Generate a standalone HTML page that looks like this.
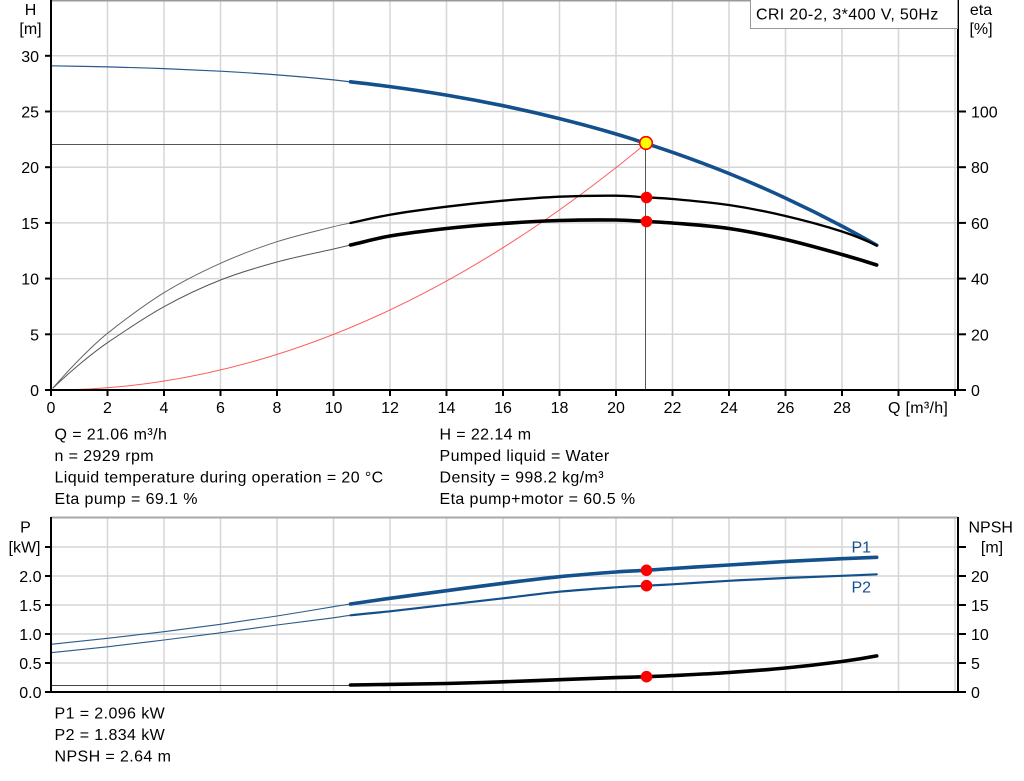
<!DOCTYPE html>
<html>
<head>
<meta charset="utf-8">
<style>
html,body{margin:0;padding:0;background:#fff;}
svg{display:block;}
text{font-family:"Liberation Sans",Arial,sans-serif;font-size:16px;fill:#000;}
.info{letter-spacing:0.4px;}
.grid line{stroke:#d6d6d6;stroke-width:1.5;}
.ax{stroke:#000;stroke-width:2;fill:none;}
.tk{stroke:#000;stroke-width:2;}
.c{fill:none;stroke-linejoin:round;stroke-linecap:round;}
</style>
</head>
<body>
<svg width="1024" height="781" viewBox="0 0 1024 781" xmlns="http://www.w3.org/2000/svg">
<rect x="0" y="0" width="1024" height="781" fill="#fff"/>

<!-- ================= TOP CHART ================= -->
<g class="grid">
  <line x1="107.5" y1="0" x2="107.5" y2="390"/>
  <line x1="164" y1="0" x2="164" y2="390"/>
  <line x1="220.5" y1="0" x2="220.5" y2="390"/>
  <line x1="277" y1="0" x2="277" y2="390"/>
  <line x1="333.5" y1="0" x2="333.5" y2="390"/>
  <line x1="390" y1="0" x2="390" y2="390"/>
  <line x1="446.5" y1="0" x2="446.5" y2="390"/>
  <line x1="503" y1="0" x2="503" y2="390"/>
  <line x1="559.5" y1="0" x2="559.5" y2="390"/>
  <line x1="616" y1="0" x2="616" y2="390"/>
  <line x1="672.5" y1="0" x2="672.5" y2="390"/>
  <line x1="729" y1="0" x2="729" y2="390"/>
  <line x1="785.5" y1="0" x2="785.5" y2="390"/>
  <line x1="842" y1="0" x2="842" y2="390"/>
  <line x1="898.5" y1="0" x2="898.5" y2="390"/>
  <line x1="955" y1="0" x2="955" y2="390"/>
  <line x1="51" y1="55.8" x2="958" y2="55.8"/>
  <line x1="51" y1="111.5" x2="958" y2="111.5"/>
  <line x1="51" y1="167.2" x2="958" y2="167.2"/>
  <line x1="51" y1="222.9" x2="958" y2="222.9"/>
  <line x1="51" y1="278.6" x2="958" y2="278.6"/>
  <line x1="51" y1="334.3" x2="958" y2="334.3"/>
</g>
<line x1="51" y1="0.7" x2="958" y2="0.7" stroke="#999" stroke-width="1.5"/>

<!-- crosshair -->
<line x1="51" y1="144.5" x2="645" y2="144.5" stroke="#555" stroke-width="1"/>
<line x1="645.5" y1="143" x2="645.5" y2="390" stroke="#555" stroke-width="1"/>

<!-- red system curve -->
<path class="c" d="M51,390 Q348.5,390 646,143.4" stroke="#ff4040" stroke-width="1" stroke-opacity="0.85"/>

<!-- H curve -->
<path class="c" stroke="#2a5a8a" stroke-width="1.2" d="M51,65.8 C69.83,66.07 88.67,66.46 107.5,66.9 C126.33,67.34 145.17,67.9 164,68.6 C182.83,69.3 201.67,70.16 220.5,71.2 C239.33,72.24 258.17,73.45 277,74.9 C295.83,76.35 314.67,77.96 333.5,79.9 C339.15,80.48 344.8,81.17 350.45,81.8"/>
<path class="c" stroke="#14508c" stroke-width="3.6" d="M350.45,81.8 C363.63,83.28 376.82,84.84 390,86.6 C408.83,89.12 427.67,91.93 446.5,95.1 C465.33,98.27 484.17,101.8 503,105.7 C521.83,109.6 540.67,113.89 559.5,118.6 C578.33,123.31 597.17,128.4 616,134 C625.97,136.96 636.03,140.17 645.9,143.4 C654.77,146.27 663.63,149.21 672.5,152.3 C691.33,158.87 710.17,165.88 729,173.5 C747.83,181.12 766.67,189.36 785.5,198.1 C804.33,206.84 823.17,216.15 842,226.1 C853.57,232.21 865.13,238.61 876.7,245.2"/>

<!-- eta pump -->
<path class="c" stroke="#666" stroke-width="1" d="M53,388 C61.75,377.78 70.5,368.29 79.25,359.5 C88.67,350.05 98.08,340.72 107.5,333.3 C126.33,318.46 145.17,304.36 164,292.7 C182.83,281.04 201.67,271.79 220.5,263.3 C239.33,254.81 258.17,247.8 277,241.7 C295.83,235.6 314.67,231.48 333.5,226.7 C339.17,225.26 344.83,224.2 350.5,223"/>
<path class="c" stroke="#000" stroke-width="2.3" d="M350.5,223 C363.67,220.21 376.83,216.94 390,214.7 C408.83,211.5 427.67,209.04 446.5,206.7 C465.33,204.36 484.17,202.37 503,200.7 C521.83,199.03 540.67,197.53 559.5,196.7 C578.33,195.87 597.17,195.57 616,195.7 C626,195.77 636,196.72 646,197.3 C654.83,197.82 663.67,198.18 672.5,199 C691.33,200.75 710.17,202.17 729,205 C747.83,207.83 766.67,211.58 785.5,216 C804.33,220.42 823.17,225.42 842,231.5 C853.57,235.24 865.13,239.91 876.7,245.5"/>

<!-- eta total -->
<path class="c" stroke="#555" stroke-width="1" d="M53,388 C61.75,379.61 70.5,371.77 79.25,364.5 C88.67,356.67 98.08,349.12 107.5,342.7 C126.33,329.86 145.17,317.15 164,306.7 C182.83,296.25 201.67,287.46 220.5,280 C239.33,272.54 258.17,267.16 277,262 C295.83,256.84 314.67,253.35 333.5,249 C339.17,247.69 344.83,246.3 350.5,245"/>
<path class="c" stroke="#000" stroke-width="3.6" d="M350.5,245 C363.67,241.97 376.83,238.26 390,236 C408.83,232.76 427.67,230.59 446.5,228.5 C465.33,226.41 484.17,224.83 503,223.5 C521.83,222.17 540.67,221.08 559.5,220.5 C578.33,219.92 597.17,219.78 616,220 C626,220.12 636,220.97 646,221.5 C654.83,221.97 663.67,222.26 672.5,223 C691.33,224.59 710.17,225.75 729,228.5 C747.83,231.25 766.67,235.17 785.5,239.5 C804.33,243.83 823.17,249.23 842,254.5 C853.57,257.74 865.13,261.24 876.7,265"/>

<!-- markers -->
<circle cx="646" cy="143" r="6.3" fill="#ffff00" stroke="#ff0000" stroke-width="1.6"/>
<circle cx="646.5" cy="197.5" r="5.8" fill="#ff0000"/>
<circle cx="646.5" cy="221.5" r="5.8" fill="#ff0000"/>

<!-- axes -->
<line class="ax" x1="51" y1="0" x2="51" y2="391"/>
<line class="ax" x1="958" y1="0" x2="958" y2="391"/>
<line class="ax" x1="50" y1="390" x2="959" y2="390"/>

<!-- ticks -->
<g class="tk">
  <line x1="45" y1="390" x2="51" y2="390"/>
  <line x1="45" y1="334.3" x2="51" y2="334.3"/>
  <line x1="45" y1="278.6" x2="51" y2="278.6"/>
  <line x1="45" y1="222.9" x2="51" y2="222.9"/>
  <line x1="45" y1="167.2" x2="51" y2="167.2"/>
  <line x1="45" y1="111.5" x2="51" y2="111.5"/>
  <line x1="45" y1="55.8" x2="51" y2="55.8"/>
  <line x1="958" y1="390" x2="966" y2="390"/>
  <line x1="958" y1="334.3" x2="966" y2="334.3"/>
  <line x1="958" y1="278.6" x2="966" y2="278.6"/>
  <line x1="958" y1="222.9" x2="966" y2="222.9"/>
  <line x1="958" y1="167.2" x2="966" y2="167.2"/>
  <line x1="958" y1="111.5" x2="966" y2="111.5"/>
  <line x1="51" y1="390" x2="51" y2="396"/>
  <line x1="107.5" y1="390" x2="107.5" y2="396"/>
  <line x1="164" y1="390" x2="164" y2="396"/>
  <line x1="220.5" y1="390" x2="220.5" y2="396"/>
  <line x1="277" y1="390" x2="277" y2="396"/>
  <line x1="333.5" y1="390" x2="333.5" y2="396"/>
  <line x1="390" y1="390" x2="390" y2="396"/>
  <line x1="446.5" y1="390" x2="446.5" y2="396"/>
  <line x1="503" y1="390" x2="503" y2="396"/>
  <line x1="559.5" y1="390" x2="559.5" y2="396"/>
  <line x1="616" y1="390" x2="616" y2="396"/>
  <line x1="672.5" y1="390" x2="672.5" y2="396"/>
  <line x1="729" y1="390" x2="729" y2="396"/>
  <line x1="785.5" y1="390" x2="785.5" y2="396"/>
  <line x1="842" y1="390" x2="842" y2="396"/>
  <line x1="898.5" y1="390" x2="898.5" y2="396"/>
  <line x1="955" y1="390" x2="955" y2="396"/>
</g>

<g text-anchor="end">
  <text x="39" y="396">0</text>
  <text x="39" y="340.3">5</text>
  <text x="39" y="284.6">10</text>
  <text x="39" y="228.9">15</text>
  <text x="39" y="173.2">20</text>
  <text x="39" y="117.5">25</text>
  <text x="39" y="61.8">30</text>
</g>
<g>
  <text x="971" y="396">0</text>
  <text x="971" y="340.3">20</text>
  <text x="971" y="284.6">40</text>
  <text x="971" y="228.9">60</text>
  <text x="971" y="173.2">80</text>
  <text x="971" y="117.5">100</text>
</g>
<g text-anchor="middle">
  <text x="51" y="413">0</text>
  <text x="107.5" y="413">2</text>
  <text x="164" y="413">4</text>
  <text x="220.5" y="413">6</text>
  <text x="277" y="413">8</text>
  <text x="333.5" y="413">10</text>
  <text x="390" y="413">12</text>
  <text x="446.5" y="413">14</text>
  <text x="503" y="413">16</text>
  <text x="559.5" y="413">18</text>
  <text x="616" y="413">20</text>
  <text x="672.5" y="413">22</text>
  <text x="729" y="413">24</text>
  <text x="785.5" y="413">26</text>
  <text x="842" y="413">28</text>
</g>
<text x="888" y="413" style="letter-spacing:0.3px">Q [m³/h]</text>

<text x="30.5" y="15" text-anchor="middle">H</text>
<text x="30.5" y="34" text-anchor="middle">[m]</text>
<text x="981" y="15" text-anchor="middle">eta</text>
<text x="981" y="34" text-anchor="middle">[%]</text>

<rect x="750.5" y="-1" width="207" height="29.5" fill="#fff" stroke="#999" stroke-width="1"/>
<text x="756" y="19.5" style="letter-spacing:0.35px">CRI 20-2, 3*400 V, 50Hz</text>

<g class="info">
  <text x="54.5" y="439.5">Q = 21.06 m³/h</text>
  <text x="54.5" y="461">n = 2929 rpm</text>
  <text x="54.5" y="482.5">Liquid temperature during operation = 20 °C</text>
  <text x="54.5" y="504">Eta pump = 69.1 %</text>
  <text x="439.5" y="439.5">H = 22.14 m</text>
  <text x="439.5" y="461">Pumped liquid = Water</text>
  <text x="439.5" y="482.5">Density = 998.2 kg/m³</text>
  <text x="439.5" y="504">Eta pump+motor = 60.5 %</text>
</g>

<!-- ================= BOTTOM CHART ================= -->
<g class="grid">
  <line x1="107.5" y1="517" x2="107.5" y2="692"/>
  <line x1="164" y1="517" x2="164" y2="692"/>
  <line x1="220.5" y1="517" x2="220.5" y2="692"/>
  <line x1="277" y1="517" x2="277" y2="692"/>
  <line x1="333.5" y1="517" x2="333.5" y2="692"/>
  <line x1="390" y1="517" x2="390" y2="692"/>
  <line x1="446.5" y1="517" x2="446.5" y2="692"/>
  <line x1="503" y1="517" x2="503" y2="692"/>
  <line x1="559.5" y1="517" x2="559.5" y2="692"/>
  <line x1="616" y1="517" x2="616" y2="692"/>
  <line x1="672.5" y1="517" x2="672.5" y2="692"/>
  <line x1="729" y1="517" x2="729" y2="692"/>
  <line x1="785.5" y1="517" x2="785.5" y2="692"/>
  <line x1="842" y1="517" x2="842" y2="692"/>
  <line x1="898.5" y1="517" x2="898.5" y2="692"/>
  <line x1="955" y1="517" x2="955" y2="692"/>
  <line x1="51" y1="663" x2="958" y2="663"/>
  <line x1="51" y1="634" x2="958" y2="634"/>
  <line x1="51" y1="605" x2="958" y2="605"/>
  <line x1="51" y1="576" x2="958" y2="576"/>
  <line x1="51" y1="547" x2="958" y2="547"/>
</g>
<line x1="51" y1="517.5" x2="958" y2="517.5" stroke="#a8a8a8" stroke-width="2"/>

<!-- P1 -->
<path class="c" stroke="#2a5a8a" stroke-width="1.1" d="M51,644.3 C69.83,642.41 88.67,640.4 107.5,638.3 C126.33,636.2 145.17,634.03 164,631.7 C182.83,629.37 201.67,626.92 220.5,624.3 C239.33,621.68 258.17,618.93 277,616 C295.83,613.07 314.67,609.77 333.5,606.7 C339.17,605.78 344.83,604.84 350.5,604"/>
<path class="c" stroke="#14508c" stroke-width="3.6" d="M350.5,604 C363.67,602.04 376.83,600.12 390,598.3 C408.83,595.69 427.67,593.2 446.5,590.7 C465.33,588.2 484.17,585.63 503,583.3 C521.83,580.97 540.67,578.58 559.5,576.7 C578.33,574.82 597.17,573.39 616,572 C626,571.26 636,570.92 646,570.3 C654.83,569.75 663.67,569.06 672.5,568.5 C691.33,567.3 710.17,566.17 729,565 C747.83,563.83 766.67,562.55 785.5,561.5 C804.33,560.45 823.17,559.57 842,558.7 C853.57,558.17 865.13,557.7 876.7,557.3"/>
<!-- P2 -->
<path class="c" stroke="#2a5a8a" stroke-width="1.1" d="M51,652.7 C69.83,650.89 88.67,648.92 107.5,646.8 C126.33,644.68 145.17,642.33 164,640 C182.83,637.67 201.67,635.3 220.5,632.8 C239.33,630.3 258.17,627.5 277,625 C295.83,622.5 314.67,620.29 333.5,617.8 C339.17,617.05 344.83,615.95 350.5,615.3"/>
<path class="c" stroke="#14508c" stroke-width="2.2" d="M350.5,615.3 C363.67,613.79 376.83,612.74 390,611.3 C408.83,609.24 427.67,606.97 446.5,604.8 C465.33,602.63 484.17,600.48 503,598.3 C521.83,596.12 540.67,593.53 559.5,591.7 C578.33,589.87 597.17,588.61 616,587.3 C626,586.61 636,586.23 646,585.7 C654.83,585.23 663.67,584.82 672.5,584.3 C691.33,583.19 710.17,581.85 729,580.8 C747.83,579.75 766.67,578.83 785.5,578 C804.33,577.17 823.17,576.57 842,575.8 C853.57,575.33 865.13,574.83 876.7,574.3"/>
<!-- NPSH -->
<line x1="51" y1="685.5" x2="350.5" y2="685.5" stroke="#444" stroke-width="1"/>
<path class="c" stroke="#000" stroke-width="3.6" d="M350.5,685 C382.5,684.68 414.5,684.17 446.5,683.5 C465.33,683.1 484.17,682.43 503,681.8 C521.83,681.17 540.67,680.4 559.5,679.7 C578.33,679 597.17,678.25 616,677.6 C626,677.25 636,677.05 646,676.7 C654.83,676.39 663.67,676.05 672.5,675.6 C691.33,674.65 710.17,673.77 729,672.5 C747.83,671.23 766.67,669.83 785.5,668 C804.33,666.17 823.17,664 842,661.5 C853.57,659.97 865.13,658.1 876.7,655.9"/>

<circle cx="646.5" cy="570.3" r="5.8" fill="#ff0000"/>
<circle cx="646.5" cy="585.7" r="5.8" fill="#ff0000"/>
<circle cx="646.5" cy="676.7" r="5.8" fill="#ff0000"/>

<text x="851.5" y="552.5" style="fill:#14508c">P1</text>
<text x="851.5" y="592.5" style="fill:#14508c">P2</text>

<line class="ax" x1="51" y1="517" x2="51" y2="693"/>
<line class="ax" x1="958" y1="517" x2="958" y2="693"/>
<line class="ax" x1="50" y1="692" x2="959" y2="692"/>

<g class="tk">
  <line x1="45" y1="692" x2="51" y2="692"/>
  <line x1="45" y1="663" x2="51" y2="663"/>
  <line x1="45" y1="634" x2="51" y2="634"/>
  <line x1="45" y1="605" x2="51" y2="605"/>
  <line x1="45" y1="576" x2="51" y2="576"/>
  <line x1="45" y1="547" x2="51" y2="547"/>
  <line x1="958" y1="692" x2="966" y2="692"/>
  <line x1="958" y1="663" x2="966" y2="663"/>
  <line x1="958" y1="634" x2="966" y2="634"/>
  <line x1="958" y1="605" x2="966" y2="605"/>
  <line x1="958" y1="576" x2="966" y2="576"/>
  <line x1="958" y1="547" x2="966" y2="547"/>
</g>

<g text-anchor="end">
  <text x="41.5" y="698">0.0</text>
  <text x="41.5" y="669">0.5</text>
  <text x="41.5" y="640">1.0</text>
  <text x="41.5" y="611">1.5</text>
  <text x="41.5" y="582">2.0</text>
</g>
<g>
  <text x="971" y="698">0</text>
  <text x="971" y="669">5</text>
  <text x="971" y="640">10</text>
  <text x="971" y="611">15</text>
  <text x="971" y="582">20</text>
</g>

<text x="25.5" y="532.5" text-anchor="middle">P</text>
<text x="24.5" y="552.5" text-anchor="middle">[kW]</text>
<text x="990.7" y="532.5" text-anchor="middle">NPSH</text>
<text x="992" y="552.5" text-anchor="middle">[m]</text>

<g class="info">
  <text x="54.5" y="718.5">P1 = 2.096 kW</text>
  <text x="54.5" y="740">P2 = 1.834 kW</text>
  <text x="54.5" y="761.5">NPSH = 2.64 m</text>
</g>
</svg>
</body>
</html>
